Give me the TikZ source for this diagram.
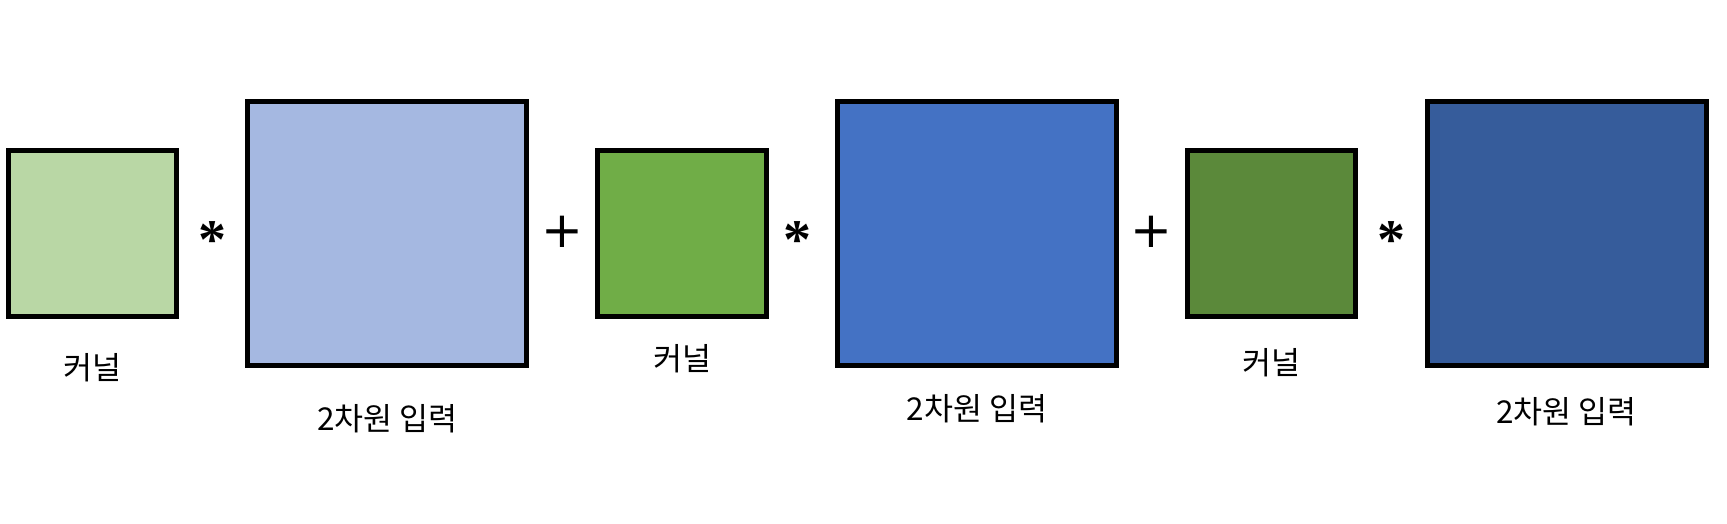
\documentclass[tikz,border=0pt]{standalone}
\usepackage{fontspec}
\newfontfamily\kr{Noto Sans CJK KR}
\newfontfamily\dv{DejaVu Sans}
\newfontfamily\ls{Liberation Serif}
\definecolor{kA}{HTML}{B9D7A5}
\definecolor{kB}{HTML}{70AD47}
\definecolor{kC}{HTML}{5B893A}
\definecolor{iA}{HTML}{A5B8E1}
\definecolor{iB}{HTML}{4472C4}
\definecolor{iC}{HTML}{365C9B}
\begin{document}
\begin{tikzpicture}[x=1pt,y=-1pt,
  sq/.style={draw=black,line width=5pt,inner sep=0pt,rectangle},
  kern/.style={sq,minimum width=168.3pt,minimum height=166pt},
  inp/.style={sq,minimum width=279pt,minimum height=264.3pt},
  lbl/.style={inner sep=0pt,font=\kr\fontsize{31.5}{36}\selectfont},
  op/.style={inner sep=0pt},
  astr/.style={op,anchor=north,font=\ls\bfseries\fontsize{56}{56}\selectfont},
  plus/.style={op,font=\dv\fontsize{50}{50}\selectfont}]
\useasboundingbox (0,0) rectangle (1727,523);
\node[kern,fill=kA] (k1) at (92.7,233.8) {};
\node[inp,fill=iA] (i1) at (387.3,233.7) {};
\node[kern,fill=kB] (k2) at (682,233.8) {};
\node[inp,fill=iB] (i2) at (976.8,233.7) {};
\node[kern,fill=kC] (k3) at (1271.3,233.8) {};
\node[inp,fill=iC] (i3) at (1566.7,233.7) {};
\node[astr] (a1) at (212,221.8) {*};
\node[astr] (a2) at (797.3,221.8) {*};
\node[astr] (a3) at (1391,221.8) {*};
\node[plus] (p1) at (562,231.7) {+};
\node[plus] (p2) at (1151,231.7) {+};
\node[lbl] (lk1) at (92.7,368) {커널};
\node[lbl] (lk2) at (682,359) {커널};
\node[lbl] (lk3) at (1271.3,362.5) {커널};
\node[lbl] (li1) at (387.3,419) {2차원 입력};
\node[lbl] (li2) at (976.8,409) {2차원 입력};
\node[lbl] (li3) at (1566.7,412) {2차원 입력};
\end{tikzpicture}
\end{document}
